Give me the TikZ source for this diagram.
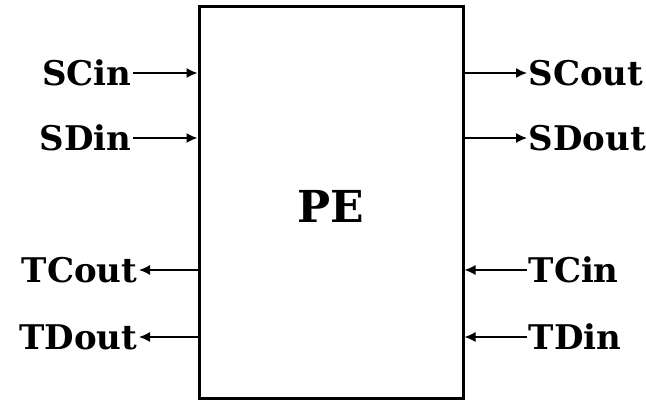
\documentclass[tikz,border=0pt]{standalone}
\usepackage{fontspec}
\setmainfont{DejaVu Serif}
\usetikzlibrary{arrows.meta}
\begin{document}
\begin{tikzpicture}[x=1pt,y=1pt,
  lbl/.style={font=\bfseries\fontsize{34}{34}\selectfont, inner sep=1.5pt, text height=25pt, text depth=0pt},
  arr/.style={line width=1.5pt, -{Latex[length=11pt,width=10pt]}},
  pebox/.style={draw, line width=3pt, minimum width=264pt, minimum height=392pt, inner sep=0pt}]
\useasboundingbox (0,0) rectangle (646,402);
\node[pebox] (pe) at (331,199) {};
\node[font=\bfseries\fontsize{44}{44}\selectfont, inner sep=0pt] (pet) at (331,196) {PE};
% left inputs
\node[lbl, anchor=east] (scin) at (133,329) {SCin};
\node[lbl, anchor=east] (sdin) at (133,264) {SDin};
% left outputs
\node[lbl, anchor=east] (tcout) at (139,132) {TCout};
\node[lbl, anchor=east] (tdout) at (139,65) {TDout};
% right outputs
\node[lbl, anchor=west] (scout) at (527,329) {SCout};
\node[lbl, anchor=west] (sdout) at (527,264) {SDout};
% right inputs
\node[lbl, anchor=west] (tcin) at (527,132) {TCin};
\node[lbl, anchor=west] (tdin) at (527,65) {TDin};
\draw[arr] (scin.east) -- (scin.east -| pe.west);
\draw[arr] (sdin.east) -- (sdin.east -| pe.west);
\draw[arr] (tcout.east -| pe.west) -- (tcout.east);
\draw[arr] (tdout.east -| pe.west) -- (tdout.east);
\draw[arr] (scout.west -| pe.east) -- (scout.west);
\draw[arr] (sdout.west -| pe.east) -- (sdout.west);
\draw[arr] (tcin.west) -- (tcin.west -| pe.east);
\draw[arr] (tdin.west) -- (tdin.west -| pe.east);
\end{tikzpicture}
\end{document}
